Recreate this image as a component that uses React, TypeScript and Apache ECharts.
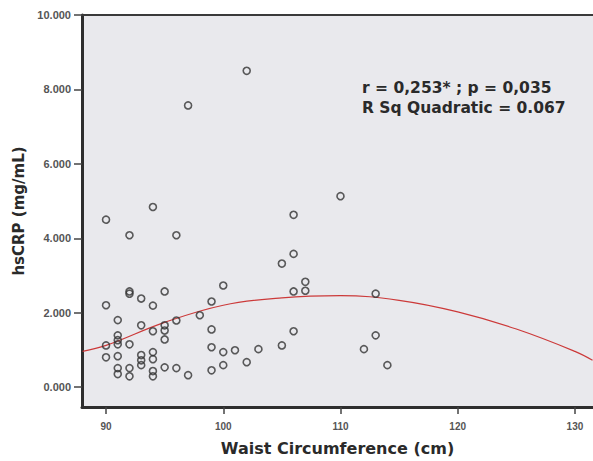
import React, { useEffect, useRef } from "react";
import * as echarts from "echarts";

const xTickValues = [90, 100, 110, 120, 130];
const yTickValues = [0, 2, 4, 6, 8, 10];

const waist = [
  90, 90, 90, 90,
  91, 91, 91, 91, 91, 91, 91,
  92, 92, 92, 92, 92, 92,
  93, 93, 93, 93, 93,
  94, 94, 94, 94, 94, 94, 94,
  95, 95, 95, 95, 95,
  96, 96, 96,
  97, 97,
  98,
  99, 99, 99, 99,
  100, 100, 100,
  101,
  102, 102,
  103,
  105, 105,
  106, 106, 106, 106,
  107, 107,
  110,
  112,
  113, 113,
  114,
];
const hscrp = [
  4.5, 2.2, 1.12, 0.8,
  1.8, 1.39, 1.26, 1.15, 0.83, 0.51, 0.35,
  4.08, 2.57, 2.51, 1.15, 0.51, 0.29,
  2.38, 1.66, 0.86, 0.72, 0.59,
  4.84, 2.19, 1.5, 0.94, 0.75, 0.43, 0.29,
  2.57, 1.66, 1.52, 1.28, 0.53,
  4.08, 1.79, 0.51,
  7.57, 0.32,
  1.93,
  2.3, 1.55, 1.07, 0.45,
  2.73, 0.94, 0.59,
  0.99,
  8.5, 0.67,
  1.02,
  3.32, 1.12,
  4.63, 3.58, 2.57, 1.5,
  2.83, 2.59,
  5.13,
  1.02,
  2.51, 1.39,
  0.59,
];

const fitWaist = [88, 90, 95, 100, 105, 110, 115, 120, 125, 130, 131.5];
const fitCrp = [0.96, 1.12, 1.74, 2.2, 2.4, 2.46, 2.33, 2.02, 1.56, 0.96, 0.72];

const statsText = ["r = 0,253* ; p = 0,035", "R Sq Quadratic = 0.067"];

const xTitle = "Waist Circumference (cm)";
const yTitle = "hsCRP (mg/mL)";

export default function App() {
  const ref = useRef<HTMLDivElement>(null);
  useEffect(() => {
    if (!ref.current) return;
    const chart = echarts.init(ref.current, undefined, { renderer: "svg" });
    const font = "'Liberation Sans', Arial, sans-serif";
    const wide = "'DejaVu Sans', Verdana, sans-serif";
    const points = waist.map((x, i) => [x, hscrp[i]]);
    const fit = fitWaist.map((x, i) => [x, fitCrp[i]]);
    chart.setOption({
      animation: false,
      backgroundColor: "#ffffff",
      textStyle: { fontFamily: font },
      grid: {
        left: 82,
        right: 0,
        top: 15,
        bottom: 52,
        show: true,
        backgroundColor: "#e9e9ed",
        borderWidth: 0,
      },
      xAxis: [
        {
          type: "value",
          min: 87.95,
          max: 131.54,
          position: "bottom",
          splitLine: { show: false },
          axisLine: { show: true, onZero: false, lineStyle: { color: "#2e2e2e", width: 3 } },
          axisTick: {
            show: true,
            length: 7,
            customValues: xTickValues,
            lineStyle: { color: "#444", width: 1.5 },
          },
          axisLabel: {
            customValues: xTickValues,
            margin: 14,
            fontSize: 10,
            fontWeight: "bold",
            color: "#555",
            fontFamily: font,
          },
          name: xTitle,
          nameLocation: "middle",
          nameGap: 33,
          nameTextStyle: { fontSize: 16, fontWeight: "bold", color: "#2a2a2a", fontFamily: wide },
        },
        {
          type: "value",
          min: 87.95,
          max: 131.54,
          position: "top",
          splitLine: { show: false },
          axisLine: { show: true, onZero: false, lineStyle: { color: "#3a3a3a", width: 2 } },
          axisTick: { show: false },
          axisLabel: { show: false },
        },
      ],
      yAxis: {
        type: "value",
        min: -0.535,
        max: 10,
        splitLine: { show: false },
        axisLine: { show: true, onZero: false, lineStyle: { color: "#2e2e2e", width: 3 } },
        axisTick: {
          show: true,
          length: 8,
          customValues: yTickValues,
          lineStyle: { color: "#444", width: 1.5 },
        },
        axisLabel: {
          customValues: yTickValues,
          margin: 11,
          fontSize: 11,
          fontWeight: "bold",
          color: "#555",
          fontFamily: font,
          formatter: (v: number) => v.toFixed(3),
        },
        name: yTitle,
        nameLocation: "middle",
        nameGap: 52,
        nameTextStyle: { fontSize: 15, fontWeight: "bold", color: "#2a2a2a", fontFamily: wide },
      },
      graphic: [
        {
          type: "text",
          left: 362,
          top: 78,
          style: {
            text: statsText.join("\n"),
            font: `bold 15.5px ${wide}`,
            fill: "#2a2a2a",
            lineHeight: 20,
          },
        },
      ],
      series: [
        {
          type: "line",
          xAxisIndex: 0,
          data: fit,
          smooth: 0.4,
          showSymbol: false,
          symbol: "none",
          lineStyle: { color: "#cc3a3a", width: 1.2 },
          z: 2,
        },
        {
          type: "scatter",
          xAxisIndex: 0,
          data: points,
          symbol: "circle",
          symbolSize: 7,
          itemStyle: { color: "rgba(0,0,0,0)", borderColor: "#333", borderWidth: 1.6 },
          z: 3,
        },
      ],
    });
    return () => chart.dispose();
  }, []);
  return (
    <div
      ref={ref}
      style={{ position: "fixed", left: 0, top: 0, width: 593, height: 461 }}
    />
  );
}
